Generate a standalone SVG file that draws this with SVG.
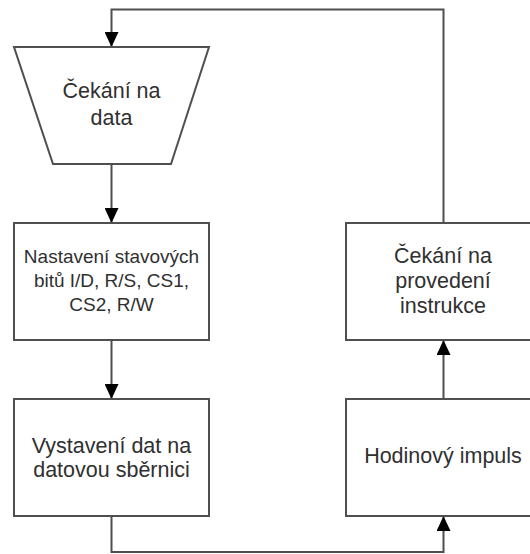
<svg xmlns="http://www.w3.org/2000/svg" width="530" height="554" viewBox="0 0 530 554">
  <style>
    .shape { fill: #ffffff; stroke: #4f4f4f; stroke-width: 2; }
    .wire { fill: none; stroke: #4f4f4f; stroke-width: 2; }
    .label { font-family: "Liberation Sans", Arial, sans-serif; font-size: 21.5px; fill: #303030; text-anchor: middle; }
    .small { font-size: 19px; }
  </style>
  <defs>
    <marker id="arrow" markerUnits="userSpaceOnUse" markerWidth="15" markerHeight="14" refX="15" refY="7" orient="auto">
      <path d="M0,0 L15,7 L0,14 z" fill="#000000"/>
    </marker>
  </defs>
  <rect width="530" height="554" fill="#ffffff"/>

  <g id="connectors">
    <path class="wire" d="M443.5 223 V9.5 H111.5 V47" marker-end="url(#arrow)"/>
    <path class="wire" d="M111.5 164 V223" marker-end="url(#arrow)"/>
    <path class="wire" d="M111.5 340 V399" marker-end="url(#arrow)"/>
    <path class="wire" d="M111.5 516 V552 H443.5 V516" marker-end="url(#arrow)"/>
    <path class="wire" d="M443.5 399 V340" marker-end="url(#arrow)"/>
  </g>

  <g id="wait-data">
    <polygon class="shape" points="14,47 209,47 171,164 53,164"/>
    <text class="label" x="111.5" y="98">Čekání na</text>
    <text class="label" x="111.5" y="125">data</text>
  </g>

  <g id="set-bits">
    <rect class="shape" x="14" y="223" width="195" height="117"/>
    <text class="label small" x="111.5" y="263">Nastavení stavových</text>
    <text class="label small" x="111.5" y="287">bitů I/D, R/S, CS1,</text>
    <text class="label small" x="111.5" y="311">CS2, R/W</text>
  </g>

  <g id="put-data">
    <rect class="shape" x="14" y="399" width="195" height="117"/>
    <text class="label" x="111.5" y="453">Vystavení dat na</text>
    <text class="label" x="111.5" y="477">datovou sběrnici</text>
  </g>

  <g id="clock-pulse">
    <rect class="shape" x="346" y="399" width="195" height="117"/>
    <text class="label" x="443" y="463">Hodinový impuls</text>
  </g>

  <g id="wait-exec">
    <rect class="shape" x="346" y="223" width="195" height="117"/>
    <text class="label" x="443" y="263">Čekání na</text>
    <text class="label" x="443" y="288">provedení</text>
    <text class="label" x="443" y="313">instrukce</text>
  </g>
</svg>
